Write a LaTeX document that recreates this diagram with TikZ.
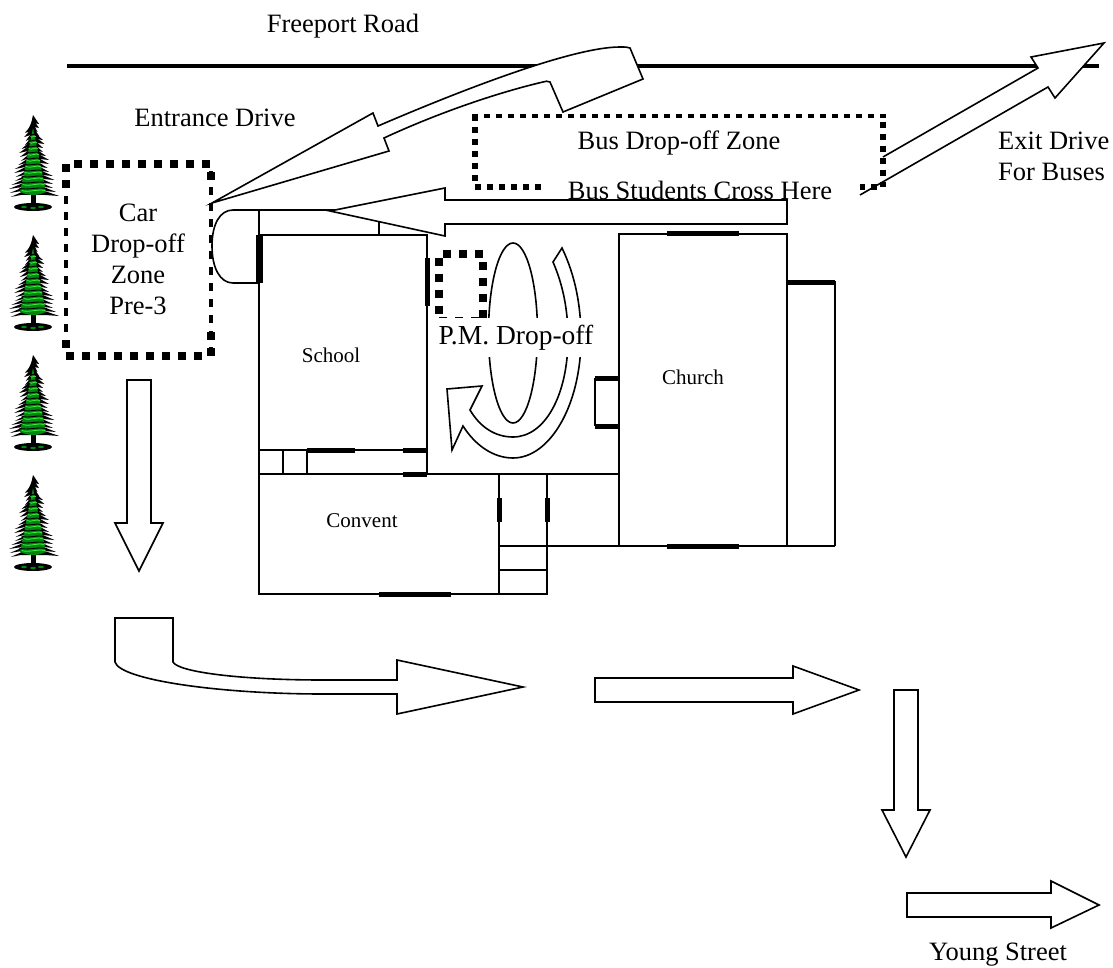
\documentclass[tikz,border=0pt]{standalone}
\usepackage{fontspec}
\setmainfont{Liberation Serif}
\definecolor{pinegreen}{RGB}{0,135,15}
\definecolor{pinelime}{RGB}{60,240,60}
\tikzset{
  biglabel/.style   = {inner sep = 0pt, align = center, font = \fontsize{26.5}{31}\selectfont},
  roomlabel/.style  = {inner sep = 0pt, font = \fontsize{21}{25}\selectfont},
  wall/.style       = {line width = 1.6pt},
  thickwall/.style  = {line width = 5pt},
  blockarrow/.style = {draw, fill = white, line width = 1.6pt, line join = miter},
  cardots/.style    = {line width = 8pt, dash pattern = on 8pt off 8pt},
  carside/.style    = {line width = 4.5pt, dash pattern = on 8pt off 8pt},
  busdots/.style    = {line width = 6pt, dash pattern = on 6pt off 6pt},
  tree/.pic = {
    % Trunk and ground
    \fill[black] (-2.5,72) rectangle (2.5,88);
    \fill[black] (0,89) ellipse (19 and 4);
    \fill[pinegreen] (-9,89) ellipse (3 and 1.2) (0,90) ellipse (3 and 1.2) (8,89) ellipse (3 and 1.2);
    % Branches
    \foreach \t in {4,8,...,78}
      \fill[black] (0,\t-7) -- ({-3-\t*0.28-2*sin(\t*70)},\t+3) -- (-\t*0.16,\t+1) -- (\t*0.16,\t+1) -- ({3+\t*0.28+2*sin(\t*110)},\t+2) -- cycle;
    \fill[pinegreen] (0,10) -- (-13,74) .. controls (-4,78) and (4,78) .. (13,74) -- cycle;
    \foreach \t in {16,22,...,74} {
      \draw[black, line width = 0.9pt] (-\t*0.2,\t) .. controls (-\t*0.08,\t+3) and (\t*0.08,\t-2) .. (\t*0.2,\t+1);
      \draw[pinelime, line width = 0.8pt] (-\t*0.16,\t+2.5) .. controls (-\t*0.05,\t+5) and (\t*0.1,\t) .. (\t*0.18,\t+3);
    }
  }
}
\begin{document}
\begin{tikzpicture}[x=1pt, y=-1pt]
    \useasboundingbox (0,0) rectangle (1113,968);

    % Trees
    \foreach \ty in {118,238,358,478} \path (33,\ty) pic {tree};

    % Road
    \draw[line width = 4pt] (67,66) -- (1099,66);

    % School and convent
    \draw[wall] (259,210) -- (259,594) -- (547,594) -- (547,474);
    \draw[wall] (259,235) -- (427,235) -- (427,474);
    \draw[wall] (233,210) -- (379,210) (379,210) -- (379,235);
    \draw[wall] (233,210) .. controls (220,210) and (212,224) .. (212,246) .. controls (212,268) and (220,283) .. (233,283) -- (259,283);
    \draw[wall] (259,450) -- (427,450) (283,450) -- (283,474) (307,450) -- (307,474);
    \draw[wall] (259,474) -- (619,474);
    \draw[wall] (499,474) -- (499,594) (499,546) -- (835,546) (499,570) -- (547,570);
    % Church
    \draw[wall] (619,234) rectangle (787,546);
    \draw[wall] (787,282) -- (835,282) -- (835,546);
    \draw[wall] (595,378) -- (595,426);
    % Doors
    \draw[line width = 7pt] (259,235) -- (259,283);
    \draw[thickwall] (427,258) -- (427,306);
    \draw[thickwall] (307,450) -- (355,450) (403,450) -- (427,450) (403,474) -- (427,474);
    \draw[thickwall] (499,498) -- (499,522) (547,498) -- (547,522);
    \draw[thickwall] (379,594) -- (451,594);
    \draw[thickwall] (667,234) -- (739,234) (667,546) -- (739,546) (787,282) -- (835,282);
    \draw[thickwall] (595,378) -- (619,378) (595,426) -- (619,426);

    % Loop in the yard
    \draw[wall, fill = white] (513,333) ellipse (24.5 and 90);
    \draw[blockarrow] (562,248) .. controls (575,275) and (581,305) .. (581,338)
        .. controls (581,405) and (550,458) .. (513,458)
        .. controls (493,458) and (475,445) .. (463,426)
        -- (452,450) -- (447,389) -- (482,386) -- (470,410)
        .. controls (480,427) and (495,437) .. (513,437)
        .. controls (545,437) and (568,395) .. (568,338)
        .. controls (568,310) and (563,285) .. (553,262) -- cycle;

    % Entrance drive
    \draw[blockarrow] (212,203) -- (373,113) -- (378,126)
        .. controls (450,95) and (570,47) .. (620,47) .. controls (625,47) and (628,47) .. (630,48)
        -- (643,79) -- (563,112) -- (550,82) .. controls (548,81) and (545,81) .. (543,82)
        .. controls (500,92) and (440,112) .. (384,138) -- (389,151) -- cycle;
    % Exit drive
    \draw[blockarrow] (860,195) -- (1048,87) -- (1055,98) -- (1104,43) -- (1031,57) -- (1038,68) -- (883,157);

    % Car zone
    \draw[cardots] (74,164) -- (211,164);
    \draw[cardots] (202,356) -- (66,356);
    \draw[carside] (66,164) -- (66,348);
    \draw[carside] (211,171) -- (211,356);
    \foreach \sy in {168,184,344} \fill (62,\sy-4) rectangle +(8,8);
    \foreach \sy in {176,336,352} \fill (207,\sy-4) rectangle +(8,8);
    % P.M. zone
    \draw[cardots] (443,254) -- (483,254) -- (483,318);
    \draw[cardots] (439,314) -- (439,258);
    \draw[line width = 1pt, dash pattern = on 8pt off 8pt] (439,317.5) -- (483,317.5);
    % Bus zone
    \draw[busdots, line width = 4.5pt] (472,116) -- (886,116);
    \draw[busdots] (475,115) -- (475,184);
    \draw[busdots] (475,187) -- (541,187);
    \draw[busdots] (883,122) -- (883,187);
    \draw[busdots] (877,187.5) -- (860,187.5);

    % Labels
    \node[biglabel] (road) at (343,26) {Freeport Road};
    \node[biglabel] (entrance) at (215,118) {Entrance Drive};
    \node[biglabel] (carzone) at (138,259) {Car\\Drop-off\\Zone\\Pre-3};
    \node[biglabel] (buszone) at (679,143) {Bus Drop-off Zone};
    \node[biglabel] (buscross) at (700,190) {Bus Students Cross Here};
    \node[biglabel, font = \fontsize{27.5}{31}\selectfont, fill = white, minimum width = 158pt, minimum height = 39pt] (pmzone) at (516,337.5) {P.M. Drop-off};
    \node[biglabel, align = left, anchor = west] (exit) at (998,156) {Exit Drive\\For Buses};
    \node[biglabel] (young) at (998,955) {Young Street};
    \node[roomlabel] (school) at (331,355) {School};
    \node[roomlabel] (convent) at (362,521) {Convent};
    \node[roomlabel] (church) at (693,377) {Church};

    % Bus lane
    \draw[blockarrow] (330,211) -- (445,188) -- (445,200) -- (787,200) -- (787,224) -- (445,224) -- (445,236) -- cycle;

    % Way out for cars
    \draw[blockarrow] (127,380) -- (151,380) -- (151,523) -- (163,523) -- (139,571) -- (115,523) -- (127,523) -- cycle;
    \draw[blockarrow] (115,618) -- (173,618) -- (173,662)
        .. controls (178,672) and (240,680) .. (323,680) -- (397,680) -- (397,660) -- (523,687) -- (397,714) -- (397,694) -- (323,694)
        .. controls (220,694) and (120,680) .. (115,662) -- cycle;
    \draw[blockarrow] (595,678) -- (793,678) -- (793,666) -- (859,690) -- (793,714) -- (793,702) -- (595,702) -- cycle;
    \draw[blockarrow] (894,690) -- (918,690) -- (918,810) -- (930,810) -- (906,857) -- (882,810) -- (894,810) -- cycle;
    \draw[blockarrow] (907,893) -- (1051,893) -- (1051,881) -- (1099,905) -- (1051,928) -- (1051,917) -- (907,917) -- cycle;
\end{tikzpicture}
\end{document}
